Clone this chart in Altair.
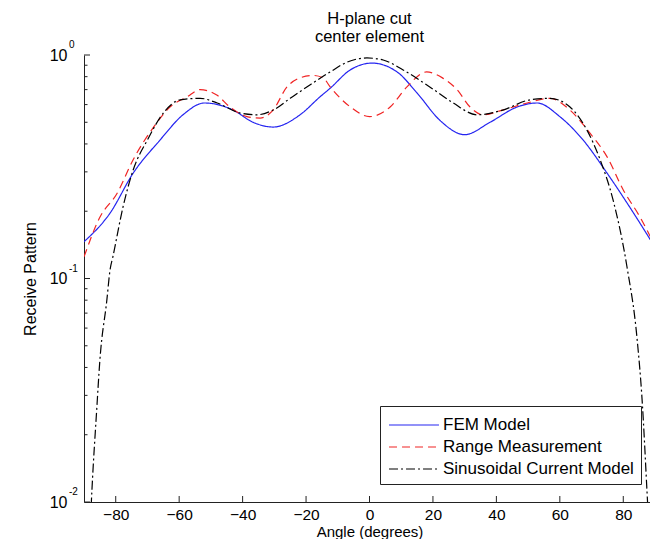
import altair as alt
import pandas as pd

# ---- data ----
series_names = ["FEM Model", "Range Measurement", "Sinusoidal Current Model"]

fem_angle = [-90, -81.8, -74.5, -66, -58.8, -52, -43, -36.7, -30.4, -21.9, -15.6, -12.4,
             -6.1, 0.8, 8.7, 15, 22.2, 30, 38, 46.5, 52.8, 60, 67.3, 74.9, 82, 90]
fem_value = [0.146, 0.196, 0.296, 0.417, 0.54, 0.61, 0.567, 0.50, 0.476, 0.54, 0.65, 0.71,
             0.857, 0.92, 0.84, 0.676, 0.51, 0.44, 0.50, 0.585, 0.61, 0.53, 0.417, 0.296, 0.209, 0.138]

range_angle = [-90, -85, -79.6, -74.5, -68, -62.9, -57.5, -53.4, -48, -44, -38.6, -34.5, -30.4,
               -26, -21.9, -17.8, -14.6, -12.4, -6, 0, 6.5, 11.8, 18, 23, 27.6, 31.7, 35.8, 42,
               49.7, 56.9, 63.2, 69.5, 74.9, 80, 85.3, 90]
range_value = [0.125, 0.188, 0.24, 0.34, 0.477, 0.585, 0.65, 0.70, 0.66, 0.585, 0.53, 0.522, 0.567,
               0.72, 0.79, 0.81, 0.79, 0.72, 0.585, 0.53, 0.585, 0.72, 0.84, 0.79, 0.70, 0.585, 0.54, 0.567,
               0.61, 0.64, 0.567, 0.447, 0.35, 0.249, 0.188, 0.14]

sin_angle = [-88, -87.5, -86, -85, -82.8, -81.8, -80.9, -77.7, -74.5, -70, -65, -59.7, -53.4, -48,
             -40.8, -35.5, -30.4, -25, -18.8, -12.4, -7, -0.8, 4.3, 10.6, 19, 26.4, 33.9, 42, 50.6,
             56.9, 63.2, 68.6, 72.7, 76.8, 81.2, 84.3, 86, 87.5, 88]
sin_value = [0.008, 0.0113, 0.0258, 0.043, 0.080, 0.109, 0.125, 0.209, 0.306, 0.417, 0.55, 0.63, 0.64, 0.61,
             0.55, 0.54, 0.567, 0.64, 0.734, 0.84, 0.93, 0.97, 0.95, 0.857, 0.72, 0.61, 0.54, 0.567, 0.63,
             0.64, 0.585, 0.46, 0.34, 0.224, 0.112, 0.0547, 0.0277, 0.011, 0.008]

x_tick_values = [-80, -60, -40, -20, 0, 20, 40, 60, 80]
y_major_values = [0.01, 0.1, 1]
y_exponents = ["-2", "-1", "0"]
y_minor_values = [0.02, 0.03, 0.04, 0.05, 0.06, 0.07, 0.08, 0.09,
                  0.2, 0.3, 0.4, 0.5, 0.6, 0.7, 0.8, 0.9]

title_lines = ["H-plane cut", "center element"]
x_title = "Angle (degrees)"
y_title = "Receive Pattern"

series_colors = ["#2424f0", "#f02424", "#000000"]
series_dash = [[1, 0], [8, 5], [9, 3, 2, 3]]

# ---- tables ----
rows = []
for name, angs, vals in zip(series_names, [fem_angle, range_angle, sin_angle],
                            [fem_value, range_value, sin_value]):
    for a, v in zip(angs, vals):
        rows.append({"series": name, "angle": a, "value": v})
df = pd.DataFrame(rows)
xt = pd.DataFrame({"angle": x_tick_values})
ymaj = pd.DataFrame({"value": y_major_values, "exp": y_exponents})
ymin = pd.DataFrame({"value": y_minor_values})

FONT = "Liberation Sans"
W, H = 571, 447

xscale = alt.Scale(domain=[-90, 90], nice=False, zero=False)
yscale = alt.Scale(type="log", domain=[0.01, 1], nice=False)

# custom stroke symbol: 50px line while the legend row stays ~22px tall
SYM = 484  # sqrt -> 22 px row
leg = alt.Legend(title=None, orient="none", legendX=296, legendY=351,
                 symbolType="M-2.27,0H2.27", symbolSize=SYM, symbolStrokeWidth=1.2,
                 symbolOffset=15, labelOffset=17,
                 labelFont=FONT, labelFontSize=17, labelColor="#000",
                 rowPadding=2, padding=7, labelLimit=0,
                 strokeColor="#222", fillColor="white")

lines = alt.Chart(df).mark_line(strokeWidth=1.2, clip=True, interpolate="monotone").encode(
    x=alt.X("angle:Q", scale=xscale,
            axis=alt.Axis(values=x_tick_values, title=x_title, ticks=False, tickSize=0, grid=False,
                          domainColor="#222", labelFont=FONT, labelFontSize=15.5, labelColor="#000",
                          labelPadding=5, titleFont=FONT, titleFontSize=15, titleFontWeight="normal",
                          titleColor="#000", titleX=W / 2, titleY=34, titleBaseline="alphabetic",
                          titleAnchor="middle")),
    y=alt.Y("value:Q", scale=yscale,
            axis=alt.Axis(values=y_major_values, labelExpr="'10'", title=y_title, ticks=False,
                          tickSize=0, grid=False, domainColor="#222", labelFont=FONT,
                          labelFontSize=16, labelColor="#000", labelPadding=17,
                          titleFont=FONT, titleFontSize=16, titleFontWeight="normal",
                          titleColor="#000", titleX=-49, titleY=H / 2, titleBaseline="alphabetic",
                          titleAngle=270, titleAlign="center")),
    color=alt.Color("series:N", scale=alt.Scale(domain=series_names, range=series_colors), legend=leg),
    strokeDash=alt.StrokeDash("series:N", scale=alt.Scale(domain=series_names, range=series_dash), legend=leg),
)

xticks = alt.Chart(xt).mark_rule(color="#222", strokeWidth=1).encode(
    x=alt.X("angle:Q", scale=xscale), y=alt.value(H), y2=alt.value(H - 6))

ymajor_ticks = alt.Chart(ymaj).mark_rule(color="#222", strokeWidth=1).encode(
    y=alt.Y("value:Q", scale=yscale), x=alt.value(0), x2=alt.value(6))

yminor_ticks = alt.Chart(ymin).mark_rule(color="#222", strokeWidth=1).encode(
    y=alt.Y("value:Q", scale=yscale), x=alt.value(0), x2=alt.value(3.5))

exps = alt.Chart(ymaj).mark_text(font=FONT, fontSize=10, align="left", baseline="middle",
                                 dy=-10, color="#000").encode(
    y=alt.Y("value:Q", scale=yscale), x=alt.value(-15), text="exp:N")

chart = alt.layer(lines, xticks, ymajor_ticks, yminor_ticks, exps).properties(
    width=W, height=H,
    title=alt.TitleParams(text=title_lines, font=FONT, fontSize=16.5, fontWeight="normal",
                          color="#000", anchor="middle", lineHeight=18, offset=15, dy=33,
                          baseline="alphabetic"),
    autosize=alt.AutoSizeParams(type="none"),
    padding={"left": 76, "top": 47, "right": -5, "bottom": 37},
).configure(background="white").configure_view(stroke="transparent")

chart.save("out.html", embed_options={"renderer": "svg", "actions": False})
